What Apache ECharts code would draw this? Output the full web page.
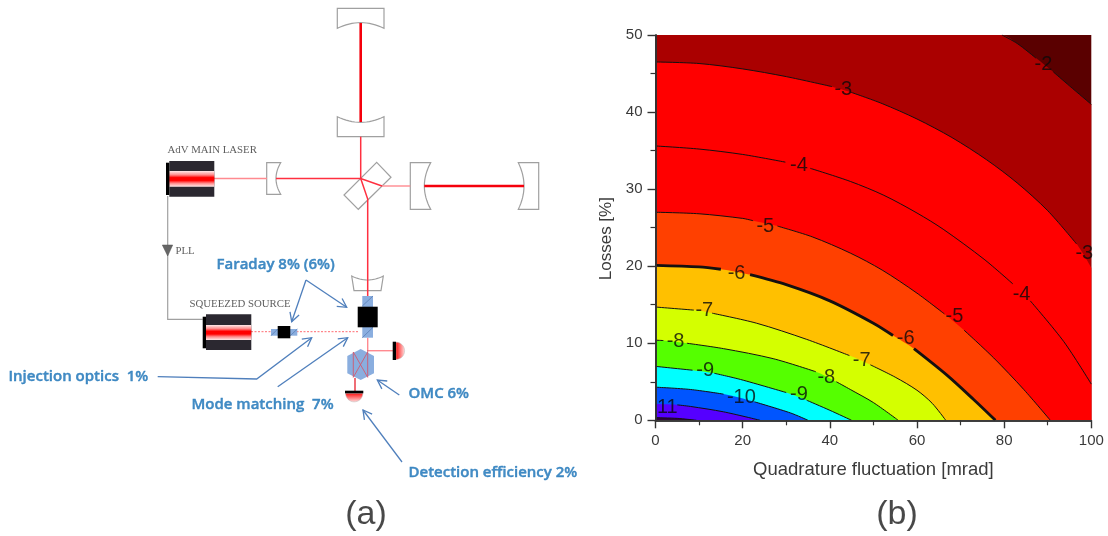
<!DOCTYPE html>
<html>
<head>
<meta charset="utf-8">
<style>html,body{margin:0;padding:0;background:#fff}#c{width:1108px;height:536px}</style>
<script src="https://cdn.jsdelivr.net/npm/echarts@6/dist/echarts.min.js"></script>
</head>
<body>
<div id="c"></div>
<script>
const GAP = ['-', '-'];

/* ---------- panel (b): contour levels ---------- */
const levelTop = [[0, 50], [100, 50]];
const level2 = [[0, 50], [79.5, 50], GAP, [79.5, 50], [83, 48.9], [87.3, 47], GAP, [91.3, 45.2], [95, 43.4], [100, 41]];
const level3 = [[0, 46.5], [10, 46.3], [20, 45.6], [30, 44.6], [40.5, 43.3], GAP, [44.7, 42.6], [52, 41.1], [60, 39.1], [68, 36.7], [76, 33.8], [83, 30.8], [90, 27.2], [96.6, 22.9], GAP, [100, 19.8]];
const level4 = [[0, 35.6], [10, 35.2], [20, 34.5], [29.8, 33.5], GAP, [35.5, 32.7], [44.7, 31], [52.4, 29.2], [60, 26.9], [66, 24.8], [75.4, 20.9], [82, 17.7], GAP, [86, 15.5], [93.7, 10.2], [100, 4.7]];
const level5 = [[0, 27], [10, 26.8], [20, 26.2], [22.4, 25.9], GAP, [28, 25.2], [36, 23.8], [44.7, 21.7], [52, 19.5], [60, 16.5], [66.3, 13.8], GAP, [70.8, 11.7], [77.6, 8.1], [84.5, 4], [90.6, 0]];
const level6 = [[0, 20.1], [10, 19.9], [15, 19.6], GAP, [21.7, 18.9], [30, 17.6], [40, 15.5], [50, 12.6], [54.5, 11], GAP, [59.3, 9.3], [67, 5.8], [73, 2.7], [78, 0]];
const level7 = [[0, 14.7], [8.8, 14.3], GAP, [13, 13.9], [23.2, 12.6], [34.7, 10.5], [44.5, 8.4], GAP, [49.3, 7.2], [55, 5.6], [60, 3.9], [63.5, 2.2], [66.6, 0]];
const level8 = [[0, 10.4], [1.8, 10.35], GAP, [7.2, 10], [15.6, 9.3], [27, 8], [36.8, 6.3], GAP, [41.5, 5], [44.7, 4], [50, 2.3], [55.7, 0]];
const level9 = [[0, 7], [8.5, 6.5], GAP, [13.5, 6.1], [19.5, 5.3], [30, 3.6], GAP, [34.7, 2.6], [40, 1.3], [45, 0]];
const level10 = [[0, 4.3], [8, 4], [15.6, 3.4], GAP, [22.7, 2.4], [31, 0.95], [35, 0]];
const level11 = [[0, 2.1], GAP, [5, 2], [8, 1.8], [15.6, 1.1], [24, 0]];
const level12 = [[0, 0.34], [5, 0.25], [9.4, 0]];
const contourLabels = [
  [89, 46.2, '-2'], [43.1, 42.9, '-3'], [98.4, 21.7, '-3'], [32.9, 33.1, '-4'], [84, 16.3, '-4'],
  [25.2, 25.2, '-5'], [68.6, 13.5, '-5'], [18.6, 19.1, '-6'], [57.4, 10.6, '-6'], [11.2, 14.2, '-7'],
  [47.3, 7.8, '-7'], [4.6, 10.2, '-8'], [39.2, 5.5, '-8'], [11.4, 6.4, '-9'], [32.9, 3.4, '-9'],
  [19.7, 3, '-10'], [2.7, 1.7, '11']
];
const xName = 'Quadrature fluctuation [mrad]';
const yName = 'Losses [%]';

/* ---------- panel (a): schematic geometry in the schematic axes ---------- */
function quad(a, c, b) {
  const out = [];
  for (let i = 0; i <= 16; i++) {
    const t = i / 16, u = 1 - t;
    out.push([u * u * a[0] + 2 * u * t * c[0] + t * t * b[0], u * u * a[1] + 2 * u * t * c[1] + t * t * b[1]]);
  }
  return out;
}
function box(x0, y0, x1, y1) { return [[x0, y0], [x1, y0], [x1, y1], [x0, y1]]; }
function dome(cx, cy, r, a0) {
  const out = [];
  for (let i = 0; i <= 16; i++) {
    const a = a0 + Math.PI * i / 16;
    out.push([cx + r * Math.cos(a), cy + r * Math.sin(a)]);
  }
  return out;
}
const mirrors = [
  [[337.3, 8.3], [384, 8.3], ...quad([384, 28.3], [360.7, 17], [337.3, 28.3])],
  [...quad([337.3, 116.7], [360.7, 128], [384, 116.7]), [384, 136.7], [337.3, 136.7]],
  [[266.7, 162.7], ...quad([280.7, 162.7], [271.3, 178.5], [280.7, 194.3]), [266.7, 194.3]],
  [[376.7, 162.3], [391, 177.3], [358.3, 209.3], [344, 195]],
  [[410.3, 162.7], ...quad([430.7, 162.7], [418, 186], [430.7, 209.3]), [410.3, 209.3]],
  [[538.7, 162.7], ...quad([518.3, 162.7], [529.7, 186], [518.3, 209.3]), [538.7, 209.3]],
  [...quad([351.7, 276], [367.7, 284], [383.3, 276]), [381, 290.7], [354, 290.7]]
];
const thickBeams = [
  [[360.7, 23], [360.7, 122]],
  [[424.3, 186], [524, 186]]
];
const thinBeams = [
  [[360.7, 136.7], [360.7, 178.5]],
  [[276, 178.5], [360.7, 178.5], [382, 186]],
  [[360.7, 178.5], [367.7, 199], [367.7, 296]]
];
const paleBeams = [
  [[214, 178.5], [267, 178.5]],
  [[382, 186], [410.3, 186]],
  [[367.7, 350.7], [393, 350.7]],
  [[367.7, 337.7], [367.7, 350.7]]
];
const redStub = [[[355, 378], [355, 391]]];
const dottedBeams = [[[251, 331.7], [358, 331.7]]];
const pllWire = [[[167.7, 196], [167.7, 319.3], [202.7, 319.3]]];
const pllMark = [[[162.3, 245], [172.7, 245], [167.7, 256]]];
const laserBodies = [box(169.3, 161, 214.3, 196.7), box(206, 314.3, 251.3, 350)];
const blackParts = [
  box(166, 162.7, 169.3, 195), box(202.7, 316.7, 206, 348.3),
  box(392.7, 341.7, 396, 360), box(345, 390.7, 363.3, 393.3)
];
const laserStripes = [box(169.3, 171, 214.3, 186.7), box(206, 325, 251.3, 340)];
const blueParts = [
  box(271, 329, 297.3, 335.7),
  box(362.3, 296, 373, 337.7),
  [[347.3, 356], [360.7, 349], [374, 356], [374, 373.3], [360.7, 380], [347.3, 373.3]]
];
const blueDiagonals = [
  [[362.3, 306], [373, 296]], [[362.3, 337.7], [373, 327.3]],
  [[271, 335.7], [277.7, 329]], [[290.3, 335.7], [297.3, 329]]
];
const blocks = [box(277.7, 326, 290.3, 338.3), box(357.7, 306.7, 377.7, 327.3)];
const omcPath = [
  [[367.7, 350], [367.7, 377.3]],
  [[353.3, 352], [367.7, 377.3]],
  [[367.7, 352], [353.3, 377.3]],
  [[353.3, 352], [353.3, 377.3]]
];
const domeRight = [dome(396, 350.8, 8.6, -Math.PI / 2)];
const domeBottom = [dome(354.2, 393.3, 8.6, 0)];
const calloutLines = [
  [[306, 280], [346.7, 307.3]],
  [[306, 280], [291.7, 321.7]],
  [[157.7, 376.7], [256.7, 379], [311.7, 337.7]],
  [[277.7, 386.7], [347.7, 337.7]],
  [[399.3, 395], [377.3, 380]],
  [[402, 462], [363, 410]]
];
const annotations = [
  [216, 265, 'Faraday 8% (6%)'], [8, 377, 'Injection optics  1%'], [191, 405, 'Mode matching  7%'],
  [408, 394, 'OMC 6%'], [408, 473, 'Detection efficiency 2%']
];
const captions = [
  [167, 150, 'AdV MAIN LASER'], [175, 251, 'PLL'], [189, 304, 'SQUEEZED SOURCE']
];
const panelLetters = [[366, 515, '(a)'], [897, 515, '(b)']];

/* ---------- build ---------- */
const AX = { xAxisIndex: 2, yAxisIndex: 2 };
const chart = echarts.init(document.getElementById('c'), null, { renderer: 'canvas' });
const noGap = d => d.filter(p => p !== GAP);

function fill(name, data, color) {
  return {
    type: 'line', name, data: noGap(data), smooth: 0.3, showSymbol: false, silent: true, animation: false,
    lineStyle: { width: 0 }, areaStyle: { color, opacity: 1, origin: 'start' }, itemStyle: { color }
  };
}
function stroke(name, data, width) {
  return {
    type: 'line', name, data, smooth: 0.3, showSymbol: false, silent: true, animation: false,
    lineStyle: { width, color: '#151010' }, itemStyle: { color: '#151010' }, connectNulls: false
  };
}
function shapes(name, geoms, kind, style) {
  return {
    type: 'custom', name, ...AX, clip: false, silent: true, animation: false,
    data: geoms.map((g, i) => [i, i]),
    renderItem: (p, api) => ({
      type: kind,
      shape: { points: geoms[p.dataIndex].map(q => api.coord(q)) },
      style
    })
  };
}
function arrowHeads(lines, size) {
  return lines.map(l => {
    const t = l[l.length - 1], s = l[l.length - 2];
    const a = Math.atan2(t[1] - s[1], t[0] - s[0]);
    return [
      [t[0] - size * Math.cos(a - 0.5), t[1] - size * Math.sin(a - 0.5)], t,
      [t[0] - size * Math.cos(a + 0.5), t[1] - size * Math.sin(a + 0.5)]
    ];
  });
}
function texts(name, data, label) {
  return {
    type: 'scatter', name, ...AX, data, symbolSize: 1, silent: true, animation: false,
    itemStyle: { color: 'transparent' },
    label: { show: true, formatter: p => p.value[2], ...label }
  };
}
const G = echarts.graphic.LinearGradient;
const stripe = new G(0, 0, 0, 1, [
  { offset: 0, color: '#ffeaea' }, { offset: 0.25, color: '#ff8a8a' }, { offset: 0.42, color: '#ff0000' },
  { offset: 0.6, color: '#ff0000' }, { offset: 0.78, color: '#ff8a8a' }, { offset: 1, color: '#ffeaea' }
]);

const fills = [
  fill('top', levelTop, '#5a0000'), fill('L2', level2, '#aa0000'), fill('L3', level3, '#ff0000'),
  fill('L4', level4, '#ff0000'), fill('L5', level5, '#ff4000'), fill('L6', level6, '#ffc000'),
  fill('L7', level7, '#d4ff00'), fill('L8', level8, '#55ff00'), fill('L9', level9, '#00ffff'),
  fill('L10', level10, '#0055ff'), fill('L11', level11, '#5500ff'), fill('L12', level12, '#300040')
];
const strokes = [
  stroke('c2', level2.slice(3), 1), stroke('c3', level3, 1), stroke('c4', level4, 1), stroke('c5', level5, 1),
  stroke('c6', level6, 2.8), stroke('c7', level7, 1), stroke('c8', level8, 1), stroke('c9', level9, 1),
  stroke('c10', level10, 1), stroke('c11', level11, 1), stroke('c12', level12, 1)
];
const axisText = { color: '#3a3a3a', fontFamily: 'Liberation Sans', fontSize: 15 };
const axisCommon = {
  type: 'value', z: 10, splitLine: { show: false },
  axisLine: { show: true, lineStyle: { color: '#333', width: 1.6 } }
};
const tickStyle = {
  axisTick: { show: true, length: 8, lineStyle: { color: '#333', width: 1.4 } },
  minorTick: { show: true, splitNumber: 2, length: 5, lineStyle: { color: '#333', width: 1.2 } }
};

chart.setOption({
  animation: false,
  backgroundColor: '#ffffff',
  grid: [
    { left: 655.5, top: 35, width: 435.8, height: 385.3 },
    { left: 0, top: 0, width: 1108, height: 536 }
  ],
  xAxis: [
    {
      ...axisCommon, ...tickStyle, gridIndex: 0, min: 0, max: 100, interval: 20, position: 'bottom',
      axisLabel: { ...axisText, margin: 13 },
      name: xName, nameLocation: 'middle', nameGap: 40,
      nameTextStyle: { color: '#3a3a3a', fontFamily: 'Liberation Sans', fontSize: 18.5 }
    },
    { ...axisCommon, gridIndex: 0, min: 0, max: 100, position: 'top', axisTick: { show: false }, axisLabel: { show: false } },
    { type: 'value', gridIndex: 1, min: 0, max: 1108, show: false }
  ],
  yAxis: [
    {
      ...axisCommon, ...tickStyle, gridIndex: 0, min: 0, max: 50, interval: 10, position: 'left',
      axisLabel: { ...axisText, margin: 13 },
      name: yName, nameLocation: 'middle', nameGap: 41,
      nameTextStyle: { color: '#3a3a3a', fontFamily: 'Liberation Sans', fontSize: 17, padding: [0, 22, 0, 0] }
    },
    { ...axisCommon, gridIndex: 0, min: 0, max: 50, position: 'right', axisTick: { show: false }, axisLabel: { show: false } },
    { type: 'value', gridIndex: 1, min: 0, max: 536, inverse: true, show: false }
  ],
  series: [
    ...fills,
    ...strokes,
    {
      type: 'scatter', name: 'contour labels', data: contourLabels, symbolSize: 1, silent: true, animation: false, z: 5,
      itemStyle: { color: 'transparent' },
      label: {
        show: true, position: 'inside', formatter: p => p.value[2],
        color: '#0a0a0a', fontFamily: 'Liberation Sans', fontSize: 20
      }
    },
    shapes('mirrors', mirrors, 'polygon', { fill: '#fff', stroke: '#a0a0a0', lineWidth: 1.2 }),
    shapes('pll wire', pllWire, 'polyline', { fill: null, stroke: '#a0a0a0', lineWidth: 1.2 }),
    shapes('pll mark', pllMark, 'polygon', { fill: '#666', stroke: '#555', lineWidth: 0.5 }),
    shapes('thin beams', thinBeams, 'polyline', { fill: null, stroke: '#ff3040', lineWidth: 1.5 }),
    shapes('pale beams', paleBeams, 'polyline', { fill: null, stroke: '#ff8a90', lineWidth: 1.4 }),
    shapes('thick beams', thickBeams, 'polyline', { fill: null, stroke: '#f5000c', lineWidth: 2.6 }),
    shapes('dotted beams', dottedBeams, 'polyline', { fill: null, stroke: '#ff6a70', lineWidth: 1, lineDash: [2, 1.5] }),
    shapes('laser bodies', laserBodies, 'polygon', { fill: '#2b2830' }),
    shapes('laser stripes', laserStripes, 'polygon', { fill: stripe }),
    shapes('blue parts', blueParts, 'polygon', { fill: '#8aaedf' }),
    shapes('blue diagonals', blueDiagonals, 'polyline', { fill: null, stroke: '#5b7fb5', lineWidth: 0.8 }),
    shapes('omc path', omcPath, 'polyline', { fill: null, stroke: '#d05a70', lineWidth: 0.9 }),
    shapes('red stub', redStub, 'polyline', { fill: null, stroke: '#e8303c', lineWidth: 1.4 }),
    shapes('blocks', blocks, 'polygon', { fill: '#000' }),
    shapes('dome right', domeRight, 'polygon', { fill: new G(0, 0, 1, 0, [{ offset: 0, color: '#ff1010' }, { offset: 1, color: '#ffe0e0' }]), stroke: '#bbb', lineWidth: 0.5 }),
    shapes('dome bottom', domeBottom, 'polygon', { fill: new G(0, 0, 0, 1, [{ offset: 0, color: '#ff1010' }, { offset: 1, color: '#ffe0e0' }]), stroke: '#bbb', lineWidth: 0.5 }),
    shapes('black parts', blackParts, 'polygon', { fill: '#000' }),
    shapes('callouts', calloutLines, 'polyline', { fill: null, stroke: '#4f7fbc', lineWidth: 1.3 }),
    shapes('callout heads', arrowHeads(calloutLines, 10), 'polyline', { fill: null, stroke: '#4f7fbc', lineWidth: 1.3 }),
    texts('annotations', annotations, { position: 'right', distance: 0, color: '#1670b6', textBorderColor: '#1670b6', textBorderWidth: 0.4, fontFamily: 'Open Sans', fontWeight: 600, fontSize: 15 }),
    texts('captions', captions, { position: 'right', distance: 0, color: '#333', fontFamily: 'Liberation Serif', fontSize: 10.8 }),
    texts('panel letters', panelLetters, { position: 'inside', color: '#1a1a1a', fontFamily: 'Liberation Sans', fontSize: 34 })
  ]
});
</script>
</body>
</html>
